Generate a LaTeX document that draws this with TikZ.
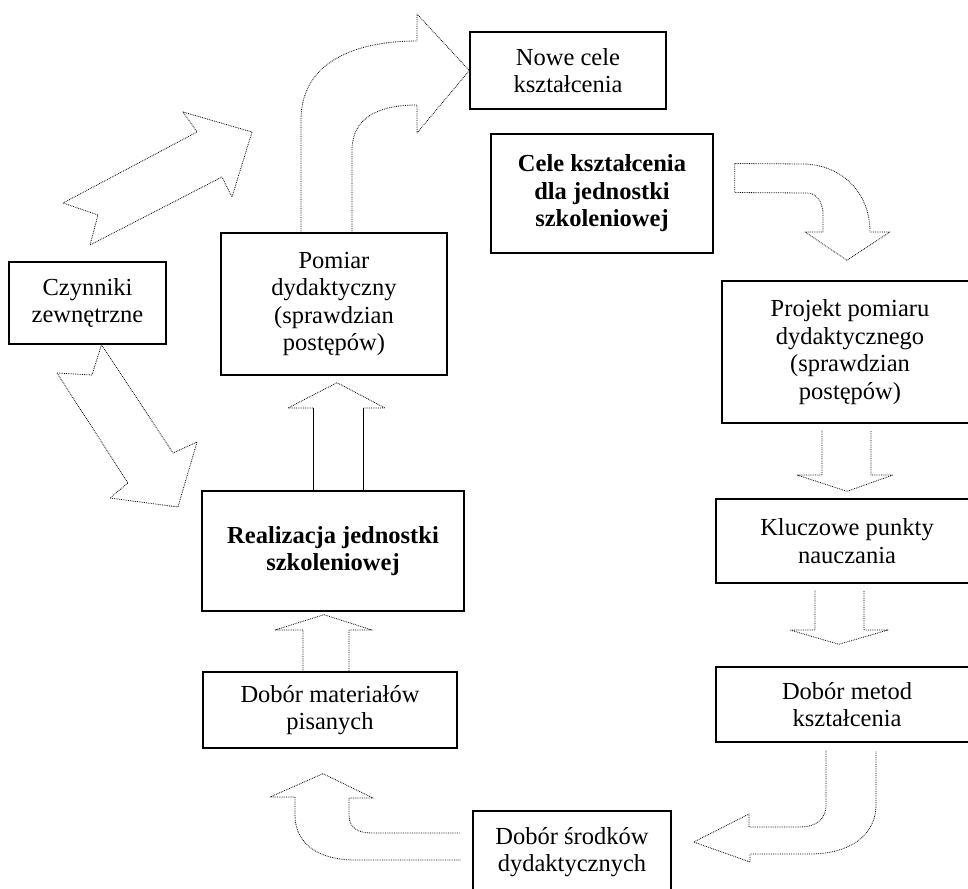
\documentclass[tikz,border=0pt]{standalone}
\usepackage{fontspec}
\setmainfont{Liberation Serif}
\usetikzlibrary{calc}

\tikzset{
 box/.style={draw, line width=1.4pt, align=center, inner sep=0pt, font=\fontsize{24.5}{27.5}\selectfont},
 boldbox/.style={box, font=\fontsize{24.5}{27.5}\selectfont\bfseries},
 hollow/.style={line width=0.8pt, densely dotted, line join=round},
}

\begin{document}
\begin{tikzpicture}[x=1pt,y=-1pt]
\useasboundingbox (0,0) rectangle (968,888);
\clip (0,0) rectangle (968,888);
% boxes
\node[box, minimum width=196, minimum height=77] (nowe) at (568,70.5) {Nowe cele\\kształcenia};
\node[boldbox, minimum width=222, minimum height=119] (cele) at (602,193.5) {Cele kształcenia\\dla jednostki\\szkoleniowej};
\node[box, minimum width=157, minimum height=82] (czyn) at (87.5,303) {Czynniki\\zewnętrzne};
\node[box, minimum width=226, minimum height=142] (pomiar) at (334,304) {Pomiar\\dydaktyczny\\(sprawdzian\\postępów)};
\node[boldbox, minimum width=262, minimum height=120] (real) at (333,551) {Realizacja jednostki\\szkoleniowej};
\node[box, minimum width=254, minimum height=76] (mat) at (330,710) {Dobór materiałów\\pisanych};
\node[box, minimum width=198, minimum height=82] (srod) at (572,852) {Dobór środków\\dydaktycznych};
\node[box, minimum width=256, minimum height=142] (proj) at (850,352) {Projekt pomiaru\\dydaktycznego\\(sprawdzian\\postępów)};
\node[box, minimum width=262, minimum height=84] (klucz) at (847,541) {Kluczowe punkty\\nauczania};
\node[box, minimum width=262, minimum height=75] (metod) at (847,704.5) {Dobór metod\\kształcenia};

% Pomiar -> Nowe cele
\draw[hollow] ($(pomiar.north)+(-33,0)$) -- (301,120) .. controls (301,62) and (355,41) .. (417,41) -- (417,14) -- (nowe.west) -- (417,133) -- (417,105) .. controls (378,105) and (352,118) .. (352,150) -- ($(pomiar.north)+(18,0)$);
% Czynniki, up
\draw[hollow] (63,203) -- (98,215) -- (90,245) -- (222,177) -- (232,197) -- (252,132) -- (183,112) -- (197,132) -- cycle;
% Czynniki -> Realizacja
\draw[hollow] (57,373) -- (92,375) -- ($(czyn.south)+(14,0)$) -- (173,453) -- (197,442) -- (178,507) -- (110,498) -- (128,483) -- cycle;
% Realizacja -> Pomiar
\draw[line width=0.8pt] ($(real.north)+(-20,0)$) -- (313,408) (363,408) -- ($(real.north)+(30,0)$);
\draw[hollow] (313,408) -- (288,408) -- ($(pomiar.south)+(3,7)$) -- (385,408) -- (363,408);
% Dobor materialow -> Realizacja
\draw[hollow] ($(mat.north)+(-27,0)$) -- (303,630) -- (275,630) -- ($(real.south)+(-9,3)$) -- (372,630) -- (349,630) -- ($(mat.north)+(19,0)$);
% Dobor srodkow -> Dobor materialow
\draw[hollow] ($(srod.west)+(-12,8)$) -- (355,860) .. controls (320,860) and (295,845) .. (295,815) -- (295,797) -- (270,797) -- ($(mat.south)+(-7,25)$) -- (373,798) -- (349,798) -- (349,815) .. controls (349,828) and (358,833) .. (372,833) -- ($(srod.west)+(-12,-19)$);
% Dobor metod -> Dobor srodkow
\draw[hollow] ($(metod.south)+(-21,8)$) -- (826,805) .. controls (826,820) and (815,827) .. (800,827) -- (749,827) -- (749,814) -- ($(srod.east)+(22,-10)$) -- (750,862) -- (750,854) -- (810,854) .. controls (850,854) and (876,835) .. (876,805) -- ($(metod.south)+(29,8)$);
% Cele -> Projekt
\draw[hollow] ($(cele.east)+(21,-30)$) -- (805,164) .. controls (845,166) and (870,195) .. (870,232) -- (890,232) -- ($(proj.north)+(-3,-20)$) -- (805,232) -- (823,232) -- (823,215) .. controls (823,200) and (815,193) .. (807,193) -- ($(cele.east)+(21,-1)$) -- cycle;
% Projekt -> Kluczowe
\draw[hollow] ($(proj.south)+(-28,7)$) -- (822,475) -- (797,475) -- ($(klucz.north)+(0,-7)$) -- (893,475) -- (871,475) -- ($(proj.south)+(21,7)$);
% Kluczowe -> Dobor metod
\draw[hollow] ($(klucz.south)+(-32,7)$) -- (815,630) -- (790,630) -- ($(metod.north)+(-8,-22)$) -- (888,630) -- (864,630) -- ($(klucz.south)+(17,7)$);
\end{tikzpicture}
\end{document}
